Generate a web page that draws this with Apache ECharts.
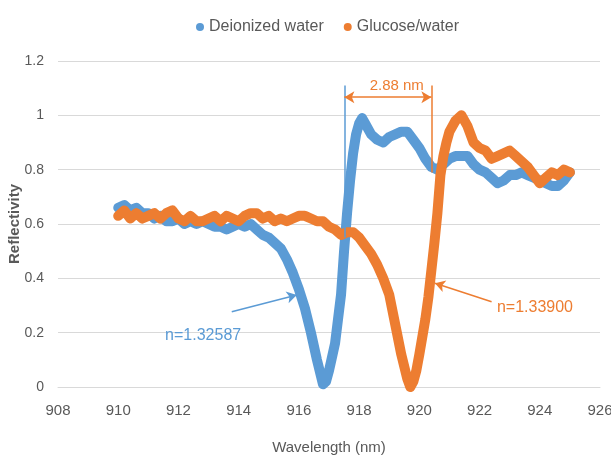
<!DOCTYPE html>
<html>
<head>
<meta charset="utf-8">
<script src="https://cdn.jsdelivr.net/npm/echarts@6/dist/echarts.min.js"></script>
<style>
  html, body { margin: 0; padding: 0; background: #fff; }
  #chart { width: 611px; height: 462px; }
</style>
</head>
<body>
<div id="chart"></div>
<script>
// Reflectivity spectra (wavelength in nm)
const waterX = [910.0, 910.2, 910.4, 910.6, 910.8, 911.0, 911.2, 911.4, 911.6, 911.8,
  912.0, 912.2, 912.4, 912.6, 912.8, 913.0, 913.2, 913.4, 913.6, 913.8,
  914.0, 914.2, 914.4, 914.6, 914.8, 915.0, 915.2, 915.4, 915.6, 915.8,
  916.0, 916.2, 916.4, 916.6, 916.8, 916.9, 917.0, 917.1, 917.2, 917.3,
  917.4, 917.5, 917.6, 917.7, 917.8, 917.9, 918.0, 918.1, 918.2, 918.4,
  918.6, 918.8, 919.0, 919.2, 919.4, 919.6, 919.8, 920.0, 920.2, 920.4,
  920.6, 920.8, 921.0, 921.2, 921.4, 921.6, 921.8, 922.0, 922.2, 922.4,
  922.6, 922.8, 923.0, 923.2, 923.4, 923.6, 923.8, 924.0, 924.2, 924.4,
  924.6, 924.8, 925.0];
const waterY = [0.66, 0.67, 0.65, 0.66, 0.64, 0.64, 0.62, 0.63, 0.61, 0.61,
  0.62, 0.60, 0.61, 0.60, 0.61, 0.60, 0.59, 0.59, 0.58, 0.59,
  0.60, 0.59, 0.60, 0.58, 0.56, 0.55, 0.53, 0.51, 0.47, 0.42,
  0.36, 0.29, 0.20, 0.10, 0.01, 0.02, 0.06, 0.11, 0.16, 0.25,
  0.34, 0.50, 0.64, 0.76, 0.86, 0.93, 0.97, 0.99, 0.97, 0.93,
  0.91, 0.90, 0.92, 0.93, 0.94, 0.94, 0.91, 0.88, 0.84, 0.81,
  0.80, 0.82, 0.84, 0.85, 0.85, 0.85, 0.82, 0.80, 0.79, 0.77,
  0.75, 0.76, 0.78, 0.78, 0.79, 0.78, 0.77, 0.76, 0.75, 0.74,
  0.74, 0.76, 0.79];

const glucoseX = [910.0, 910.2, 910.4, 910.6, 910.8, 911.0, 911.2, 911.4, 911.6, 911.8,
  912.0, 912.2, 912.4, 912.6, 912.8, 913.0, 913.2, 913.4, 913.6, 913.8,
  914.0, 914.2, 914.4, 914.6, 914.8, 915.0, 915.2, 915.4, 915.6, 915.8,
  916.0, 916.2, 916.4, 916.6, 916.8, 917.0, 917.2, 917.4, 917.6, 917.8,
  918.0, 918.2, 918.4, 918.6, 918.8, 919.0, 919.2, 919.4, 919.6, 919.7,
  919.8, 919.9, 920.0, 920.2, 920.3, 920.4, 920.5, 920.6, 920.7, 920.8,
  920.9, 921.0, 921.2, 921.4, 921.6, 921.8, 922.0, 922.2, 922.4, 922.6,
  922.8, 923.0, 923.2, 923.4, 923.6, 923.8, 924.0, 924.2, 924.4, 924.6,
  924.8, 925.0];
const glucoseY = [0.63, 0.65, 0.62, 0.64, 0.62, 0.63, 0.64, 0.62, 0.64, 0.65,
  0.62, 0.61, 0.63, 0.61, 0.61, 0.62, 0.63, 0.61, 0.63, 0.62,
  0.61, 0.63, 0.64, 0.64, 0.62, 0.63, 0.61, 0.62, 0.61, 0.62,
  0.63, 0.63, 0.62, 0.61, 0.61, 0.59, 0.58, 0.56, 0.57, 0.57,
  0.55, 0.52, 0.49, 0.45, 0.40, 0.34, 0.23, 0.12, 0.03, 0.00,
  0.02, 0.06, 0.12, 0.25, 0.33, 0.43, 0.53, 0.64, 0.78, 0.85,
  0.90, 0.94, 0.98, 1.00, 0.96, 0.90, 0.88, 0.87, 0.84, 0.85,
  0.86, 0.87, 0.85, 0.83, 0.81, 0.78, 0.75, 0.77, 0.79, 0.78,
  0.80, 0.79];

const xTicks = { min: 908, max: 926, step: 2 };
const yTicks = { min: 0, max: 1.2, step: 0.2 };

// Annotation values (data coordinates)
const shiftStart = 917.51;       // resonance of deionized water
const shiftEnd = 920.40;         // resonance of glucose solution
const shiftLabel = '2.88 nm';
const waterIndexLabel = 'n=1.32587';
const glucoseIndexLabel = 'n=1.33900';

const BLUE = '#5B9BD5';
const ORANGE = '#ED7D31';
const TEXT = '#595959';
const FONT = '"Liberation Sans", Arial, sans-serif';

const pairs = (xs, ys) => xs.map((x, i) => [x, ys[i]]);

const chart = echarts.init(document.getElementById('chart'), null, { renderer: 'canvas' });

const arrowEnd = { symbol: 'arrow', symbolSize: [9, 10] };

chart.setOption({
  animation: false,
  backgroundColor: '#fff',
  legend: {
    top: 14,
    left: 191,
    icon: 'circle',
    itemWidth: 8,
    itemHeight: 8,
    itemGap: 20,
    textStyle: { color: TEXT, fontSize: 16, fontFamily: FONT },
    data: ['Deionized water', 'Glucose/water']
  },
  grid: { left: 58, right: 11, top: 61, bottom: 75, outerBoundsMode: 'none' },
  xAxis: {
    type: 'value',
    min: xTicks.min,
    max: xTicks.max,
    interval: xTicks.step,
    name: 'Wavelength (nm)',
    nameLocation: 'middle',
    nameGap: 53,
    nameMoveOverlap: false,
    nameTextStyle: { color: TEXT, fontSize: 15, fontFamily: FONT },
    axisLine: { show: true, lineStyle: { color: '#d9d9d9', width: 1 } },
    axisTick: { show: false },
    splitLine: { show: false },
    axisLabel: { color: TEXT, fontSize: 15, fontFamily: FONT, margin: 16 }
  },
  yAxis: {
    type: 'value',
    min: yTicks.min,
    max: yTicks.max,
    interval: yTicks.step,
    name: 'Reflectivity',
    nameLocation: 'middle',
    nameGap: 36,
    nameMoveOverlap: false,
    nameRotate: 90,
    nameTextStyle: { color: TEXT, fontSize: 15, fontWeight: 'bold', fontFamily: FONT },
    axisLine: { show: false },
    axisTick: { show: false },
    splitLine: { show: true, lineStyle: { color: '#d9d9d9', width: 1 } },
    axisLabel: { color: TEXT, fontSize: 14, fontFamily: FONT, margin: 14 }
  },
  series: [
    {
      name: 'Deionized water',
      type: 'line',
      data: pairs(waterX, waterY),
      showSymbol: false,
      symbol: 'circle',
      color: BLUE,
      lineStyle: { width: 10, color: BLUE, cap: 'round', join: 'round' },
      z: 2,
      markLine: {
        silent: true,
        symbol: ['none', 'none'],
        label: { show: false },
        lineStyle: { color: BLUE, width: 1.5, type: 'solid' },
        data: [
          [{ coord: [shiftStart, 1.11] }, { coord: [shiftStart, 0.55] }],
          [{ coord: [913.77, 0.277] }, Object.assign({ coord: [915.93, 0.339] }, arrowEnd)]
        ]
      },
      markPoint: {
        silent: true,
        symbol: 'circle',
        symbolSize: 0,
        data: [{
          coord: [912.82, 0.191],
          label: { show: true, position: 'inside', formatter: waterIndexLabel, color: BLUE, fontSize: 16, fontFamily: FONT }
        }]
      }
    },
    {
      name: 'Glucose/water',
      type: 'line',
      data: pairs(glucoseX, glucoseY),
      showSymbol: false,
      symbol: 'circle',
      color: ORANGE,
      lineStyle: { width: 10, color: ORANGE, cap: 'round', join: 'round' },
      z: 3,
      markLine: {
        silent: true,
        symbol: ['none', 'none'],
        label: { show: false },
        lineStyle: { color: ORANGE, width: 1.5, type: 'solid' },
        data: [
          [{ coord: [shiftEnd, 1.11] }, { coord: [shiftEnd, 0.79] }],
          [Object.assign({ coord: [shiftStart, 1.067] }, arrowEnd), Object.assign({ coord: [shiftEnd, 1.067] }, arrowEnd)],
          [{ coord: [922.40, 0.314] }, Object.assign({ coord: [920.52, 0.382] }, arrowEnd)]
        ]
      },
      markPoint: {
        silent: true,
        symbol: 'circle',
        symbolSize: 0,
        data: [
          {
            coord: [919.25, 1.11],
            label: { show: true, position: 'inside', formatter: shiftLabel, color: ORANGE, fontSize: 15, fontFamily: FONT }
          },
          {
            coord: [923.84, 0.291],
            label: { show: true, position: 'inside', formatter: glucoseIndexLabel, color: ORANGE, fontSize: 16, fontFamily: FONT }
          }
        ]
      }
    }
  ]
});
</script>
</body>
</html>
